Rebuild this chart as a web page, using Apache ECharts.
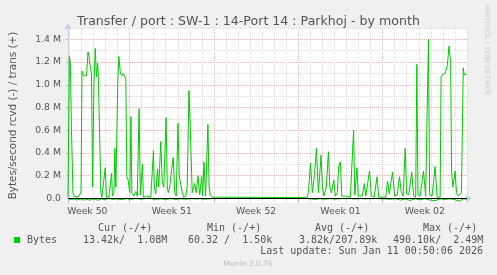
<!DOCTYPE html>
<html><head><meta charset="utf-8">
<script src="https://cdn.jsdelivr.net/npm/echarts@6/dist/echarts.min.js"></script>
<style>html,body{margin:0;padding:0;background:#f0f0f0}#c{width:497px;height:275px}</style>
</head><body><div id="c"></div>
<script>
// time in days since Mon 8 Dec 2025 00:00 ; values in MB/s
const transDays = [1.89,2.00,2.08,2.18,2.30,2.39,2.55,2.72,2.88,2.97,3.05,3.17,3.30,3.42,3.50,3.55,3.63,3.71,3.84,3.93,4.04,4.15,4.25,4.35,4.41,4.50,4.56,4.62,4.70,4.98,5.08,5.28,5.51,5.57,5.70,5.78,5.86,6.03,6.11,6.24,6.36,6.48,6.61,6.69,6.77,6.86,7.02,7.11,7.19,7.35,7.52,7.64,7.79,7.89,8.07,8.14,8.35,8.51,8.76,8.98,9.05,9.17,9.32,9.42,9.59,9.71,9.84,10.03,10.13,10.21,10.33,10.50,10.62,10.75,10.87,11.02,11.12,11.24,11.37,11.49,11.66,11.78,11.93,12.07,12.20,12.40,12.53,12.68,12.82,12.98,13.07,13.17,13.31,13.50,13.60,13.69,13.87,13.98,18.90,18.97,19.04,21.73,21.84,22.01,22.17,22.34,22.50,22.67,22.89,23.00,23.12,23.33,23.50,23.62,23.75,23.95,24.08,24.24,24.35,24.49,24.61,24.90,25.32,25.48,25.59,25.69,25.87,25.98,26.31,26.48,26.60,26.91,27.06,27.30,27.53,27.68,28.05,28.26,28.41,28.55,28.82,29.00,29.21,29.40,29.54,29.70,29.87,29.99,30.16,30.42,30.57,30.74,30.84,30.93,31.11,31.39,31.57,31.73,31.80,31.90,32.10,32.35,32.52,32.77,32.85,32.97,33.06,33.18,33.26,33.37,33.51,33.64,33.72,33.84,34.01,34.13,34.26,34.42,34.54,34.69,34.77,34.96];
const transMB = [0.01,1.25,1.20,0.60,0.05,0.02,0.03,0.01,0.01,0.05,1.12,1.08,1.07,1.08,1.20,1.29,1.25,1.18,1.10,0.10,1.00,1.32,1.07,1.19,1.07,1.08,1.07,0.05,0.01,0.27,0.01,0.01,0.22,0.02,0.05,0.44,0.10,1.05,1.25,1.10,1.08,1.10,1.09,1.05,0.19,0.17,0.05,0.72,0.05,0.02,0.06,0.02,0.79,0.03,0.30,0.01,0.02,0.01,0.01,0.42,0.10,0.04,0.26,0.10,0.50,0.15,0.10,0.71,0.10,0.05,0.10,0.26,0.36,0.05,0.02,0.66,0.20,0.20,0.05,0.01,0.02,0.10,0.95,0.50,0.05,0.13,0.05,0.20,0.03,0.19,0.02,0.32,0.02,0.65,0.10,0.03,0.01,0.008,0.008,0.015,0.008,0.008,0.05,0.31,0.05,0.20,0.44,0.05,0.38,0.10,0.02,0.10,0.41,0.10,0.05,0.16,0.02,0.05,0.28,0.32,0.02,0.02,0.01,0.02,0.60,0.03,0.27,0.02,0.02,0.13,0.02,0.24,0.02,0.01,0.19,0.01,0.01,0.01,0.15,0.04,0.23,0.02,0.03,0.19,0.06,0.02,0.44,0.04,0.03,0.23,0.02,0.01,1.18,0.03,0.02,0.24,0.02,0.02,1.40,0.03,0.02,0.28,0.01,0.01,1.07,1.09,1.08,1.10,1.09,1.17,1.34,1.20,0.23,0.10,0.24,0.05,0.02,0.01,0.05,1.15,1.09,1.09];
const rcvdDays = [1.89,2.14,2.39,2.63,2.80,2.97,3.21,3.46,3.71,3.96,4.21,4.46,4.70,4.95,5.28,5.61,5.95,6.19,6.53,6.77,7.11,7.52,7.93,8.35,8.76,9.16,9.59,10.00,10.42,10.83,11.24,11.66,12.07,12.48,12.89,13.31,13.89,21.67,22.01,22.42,22.83,23.25,23.66,24.07,24.49,25.32,25.73,26.15,26.56,26.97,27.80,28.63,29.04,29.46,29.87,30.28,30.70,31.11,31.52,31.94,32.35,32.77,33.18,33.59,34.01,34.42,34.67,34.96];
const rcvdMB = [0.0,0.01,0.005,0.015,0.01,0.005,0.015,0.01,0.015,0.005,0.012,0.015,0.005,0.012,0.002,0.01,0.005,0.012,0.008,0.003,0.01,0.002,0.008,0.002,0.003,0.01,0.004,0.01,0.003,0.01,0.004,0.008,0.002,0.006,0.003,0.008,0.001,0.001,0.004,0.01,0.003,0.008,0.002,0.007,0.003,0.002,0.006,0.001,0.005,0.002,0.003,0.008,0.003,0.015,0.006,0.018,0.005,0.012,0.004,0.015,0.02,0.005,0.01,0.004,0.012,0.025,0.005,0.008];
const weekMids = [3.5,10.5,17.5,24.5,31.5];
const weekLabels = ['Week 50','Week 51','Week 52','Week 01','Week 02'];
const weekStarts = [7,14,21,28];
const yMajor = [0.2,0.4,0.6,0.8,1.0,1.2,1.4];
const yMinor = [0.1,0.3,0.5,0.7,0.9,1.1,1.3,1.5];
const yLabelVals = [0,0.2,0.4,0.6,0.8,1.0,1.2,1.4];
const legendHead = ['Cur (-/+)','Min (-/+)','Avg (-/+)','Max (-/+)'];
const legendVals = ['13.42k/  1.08M','60.32 /  1.50k','3.82k/207.89k','490.10k/  2.49M'];
const seriesName = 'Bytes';
const titleText = 'Transfer / port : SW-1 : 14-Port 14 : Parkhoj - by month';
const yName = 'Bytes/second rcvd (-) / trans (+)';
const lastUpdate = 'Last update: Sun Jan 11 00:50:06 2026';

const dayTicks = [];
for (let d = 2; d <= 35; d++) if (weekStarts.indexOf(d) < 0) dayTicks.push(d);

const XMIN = 1.89, XMAX = 35.0, YMIN = -0.041, YMAX = 1.5;
const GREEN = '#00cc00';
const AXIS = '#c4cbe6';
const TXT = '#555555';
const SANS = 'DejaVu Sans';
const MONO = 'DejaVu Sans Mono';
const MINOR = '#dadada';
const MAJOR = '#efb4b4';

const chart = echarts.init(document.getElementById('c'), null, {renderer: 'canvas'});
const mono = (text, x, y, align) => ({type: 'text', x: x, y: y, silent: true,
  style: {text: text, font: '10px "' + MONO + '"', fill: TXT, align: align || 'left', verticalAlign: 'middle'}});
const graphics = [
  {type: 'rect', shape: {x: 14, y: 237, width: 6, height: 6}, style: {fill: GREEN}, silent: true},
  mono(seriesName, 27, 240),
  mono(lastUpdate, 483, 251.5, 'right'),
  {type: 'text', x: 248, y: 264.5, silent: true, style: {text: 'Munin 2.0.76', font: '7.5px "' + SANS + '"', fill: '#bdbdbd', align: 'center', verticalAlign: 'middle'}},
  {type: 'text', x: 487, y: 5, rotation: -Math.PI / 2, silent: true, style: {text: 'RRDTOOL / TOBI OETIKER', font: '7px "' + SANS + '"', fill: '#cccccc', align: 'left', verticalAlign: 'middle'}}
];
const headX = [98, 207, 315, 423];
const valX = [83, 188, 299, 393];
legendHead.forEach((t, i) => graphics.push(mono(t, headX[i], 228)));
legendVals.forEach((t, i) => graphics.push(mono(t, valX[i], 240)));

chart.setOption({
  animation: false,
  backgroundColor: '#f0f0f0',
  title: {text: titleText, left: 'center', top: 10, textStyle: {fontFamily: SANS, fontSize: 12.6, fontWeight: 'normal', color: TXT}},
  grid: {left: 67, top: 28, width: 400, height: 175, show: true, backgroundColor: '#ffffff', borderWidth: 0},
  xAxis: [
    {type: 'value', min: XMIN, max: XMAX, position: 'bottom',
     axisLine: {show: true, lineStyle: {color: AXIS, width: 1}, symbol: ['none', 'arrow'], symbolSize: [6, 7], symbolOffset: [0, 5]},
     axisTick: {show: true, customValues: dayTicks, length: 2, lineStyle: {color: '#bbbbbb'}},
     axisLabel: {show: false},
     splitLine: {show: true, lineStyle: {color: MINOR, type: [1, 1], width: 1}}},
    {type: 'value', min: XMIN, max: XMAX, position: 'bottom',
     axisLine: {show: false},
     axisTick: {show: true, customValues: weekStarts, length: 3, lineStyle: {color: '#e08a8a'}},
     axisLabel: {show: true, customValues: weekMids, margin: 4, fontFamily: SANS, fontSize: 9.3, color: TXT,
       formatter: v => weekLabels[weekMids.indexOf(v)]},
     splitLine: {show: true, lineStyle: {color: MAJOR, type: [1, 1], width: 1}}}
  ],
  yAxis: [
    {type: 'value', min: YMIN, max: YMAX, position: 'left',
     axisLine: {show: true, lineStyle: {color: AXIS, width: 1}, symbol: ['none', 'arrow'], symbolSize: [6, 7], symbolOffset: [0, 5]},
     axisTick: {show: false, customValues: yMinor},
     axisLabel: {show: false},
     splitLine: {show: true, lineStyle: {color: MINOR, type: [1, 1], width: 1}},
     name: yName, nameLocation: 'middle', nameGap: 50, nameRotate: 90,
     nameTextStyle: {fontFamily: SANS, fontSize: 10.4, color: TXT}},
    {type: 'value', min: YMIN, max: YMAX, position: 'left',
     axisLine: {show: false},
     axisTick: {show: true, customValues: yMajor, length: 2, lineStyle: {color: '#bbbbbb'}},
     axisLabel: {show: true, customValues: yLabelVals, margin: 7, fontFamily: SANS, fontSize: 9.3, color: TXT,
       formatter: v => v === 0 ? '0.0' : v.toFixed(1) + ' M'},
     splitLine: {show: true, lineStyle: {color: MAJOR, type: [1, 1], width: 1}}}
  ],
  series: [
    {type: 'line', name: seriesName + ' rcvd', xAxisIndex: 0, yAxisIndex: 0, showSymbol: false, silent: true,
     lineStyle: {color: GREEN, width: 1}, data: rcvdDays.map((d, i) => [d, -rcvdMB[i]])},
    {type: 'line', name: seriesName, xAxisIndex: 0, yAxisIndex: 0, showSymbol: false, silent: true,
     lineStyle: {color: GREEN, width: 1}, data: transDays.map((d, i) => [d, transMB[i]]),
     markLine: {silent: true, symbol: 'none', label: {show: false}, lineStyle: {color: '#000000', width: 1, type: 'solid'},
       data: [{yAxis: 0}]}}
  ],
  graphic: graphics
});
</script></body></html>
